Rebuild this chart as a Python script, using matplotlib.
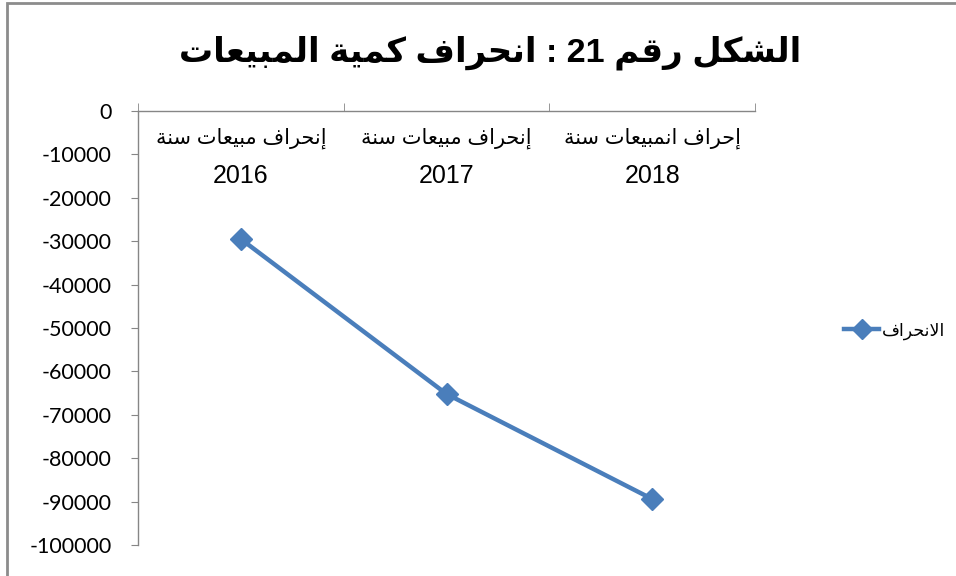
import matplotlib
matplotlib.use("Agg")
import matplotlib.pyplot as plt
import matplotlib.transforms as mtransforms
from matplotlib.patches import Rectangle
from matplotlib.lines import Line2D

# --- data ---------------------------------------------------------------
title = "الشكل رقم 21 : انحراف كمية المبيعات"
cat_names = ["إنحراف مبيعات سنة", "إنحراف مبيعات سنة", "إحراف انمبيعات سنة"]
cat_years = ["2016", "2017", "2018"]
deviation = [-29500, -65200, -89400]
series_name = "الانحراف"
y_ticks = list(range(0, -100001, -10000))

LINE_COLOR = "#4a7ebb"
AXIS_COLOR = "#868686"
ARABIC = ["Liberation Sans", "DejaVu Sans"]

# --- minimal arabic shaping (matplotlib has no complex text layout) ------
# forms: isolated, final, initial, medial (None for right-joining letters)
FORMS = {
    "ا": ("\uFE8D", "\uFE8E", None, None),
    "إ": ("\uFE87", "\uFE88", None, None),
    "ر": ("\uFEAD", "\uFEAE", None, None),
    "ة": ("\uFE93", "\uFE94", None, None),
    "ب": ("\uFE8F", "\uFE90", "\uFE91", "\uFE92"),
    "ت": ("\uFE95", "\uFE96", "\uFE97", "\uFE98"),
    "ح": ("\uFEA1", "\uFEA2", "\uFEA3", "\uFEA4"),
    "س": ("\uFEB1", "\uFEB2", "\uFEB3", "\uFEB4"),
    "ش": ("\uFEB5", "\uFEB6", "\uFEB7", "\uFEB8"),
    "ع": ("\uFEC9", "\uFECA", "\uFECB", "\uFECC"),
    "ف": ("\uFED1", "\uFED2", "\uFED3", "\uFED4"),
    "ق": ("\uFED5", "\uFED6", "\uFED7", "\uFED8"),
    "ك": ("\uFED9", "\uFEDA", "\uFEDB", "\uFEDC"),
    "ل": ("\uFEDD", "\uFEDE", "\uFEDF", "\uFEE0"),
    "م": ("\uFEE1", "\uFEE2", "\uFEE3", "\uFEE4"),
    "ن": ("\uFEE5", "\uFEE6", "\uFEE7", "\uFEE8"),
    "ي": ("\uFEF1", "\uFEF2", "\uFEF3", "\uFEF4"),
}
LAM_ALEF = {"ا": ("\uFEFB", "\uFEFC"), "إ": ("\uFEF9", "\uFEFA")}


def dual(ch):
    return ch in FORMS and FORMS[ch][2] is not None


def rtl(s):
    out = []
    i = 0
    while i < len(s):
        ch = s[i]
        prev = s[i - 1] if i > 0 else ""
        if ch == "ل" and i + 1 < len(s) and s[i + 1] in LAM_ALEF:
            iso, fin = LAM_ALEF[s[i + 1]]
            out.append(fin if dual(prev) else iso)
            i += 2
            continue
        if ch not in FORMS:
            out.append(ch)
            i += 1
            continue
        nxt = s[i + 1] if i + 1 < len(s) else ""
        join_prev = dual(prev)
        join_next = dual(ch) and nxt in FORMS
        iso, fin, ini, med = FORMS[ch]
        if join_prev and join_next:
            out.append(med)
        elif join_prev:
            out.append(fin)
        elif join_next:
            out.append(ini)
        else:
            out.append(iso)
        i += 1
    # visual order: reverse, then restore digit runs
    vis = "".join(out)[::-1]
    res, run = [], ""
    for c in vis:
        if c.isdigit():
            run += c
        else:
            res.append(run[::-1]); run = ""
            res.append(c)
    res.append(run[::-1])
    return "".join(res)


# --- figure -------------------------------------------------------------
fig = plt.figure(figsize=(9.56, 5.76), dpi=100)
ax = fig.add_axes([138 / 956, 1 - 545 / 576, (755 - 138) / 956, (545 - 111) / 576])

x = list(range(1, len(cat_years) + 1))
ax.plot(x, deviation, color=LINE_COLOR, linewidth=3.2, marker="D",
        markersize=11, markerfacecolor=LINE_COLOR, markeredgecolor=LINE_COLOR,
        solid_capstyle="round")

ax.set_xlim(0.5, len(cat_years) + 0.5)
ax.set_ylim(-100000, 0)

for side in ("right", "bottom"):
    ax.spines[side].set_visible(False)
for side in ("left", "top"):
    ax.spines[side].set_color(AXIS_COLOR)
    ax.spines[side].set_linewidth(1.0)

ax.set_yticks(y_ticks)
ax.set_yticklabels([str(v) for v in y_ticks], fontfamily="Lato", fontsize=15.5)
ax.tick_params(axis="y", length=5, color=AXIS_COLOR, pad=14)

# category labels: year as tick label, arabic caption above it
ax.set_xticks(x)
ax.set_xticklabels(cat_years, fontfamily="Liberation Sans", fontsize=18)
ax.set_xticks([v + 0.5 for v in range(len(cat_years) + 1)], minor=True)
ax.tick_params(axis="x", which="major", top=False, bottom=False,
               labeltop=True, labelbottom=False, pad=-42)
ax.tick_params(axis="x", which="minor", top=True, bottom=False, length=6,
               color=AXIS_COLOR, direction="out")
for lab in ax.get_xticklabels():
    lab.set_va("top")

trans = mtransforms.blended_transform_factory(ax.transData, ax.transAxes)
for xi, name in zip(x, cat_names):
    ax.text(xi, 1 - (128 - 111) / 434, rtl(name), transform=trans,
            ha="center", va="top", fontsize=15, fontfamily=ARABIC)

fig.text(490 / 956, 1 - 53 / 576, rtl(title), ha="center", va="center",
         fontsize=24.5, fontweight="bold", fontfamily=ARABIC)

handle = Line2D([], [], color=LINE_COLOR, linewidth=3.2, marker="D",
                markersize=10, markerfacecolor=LINE_COLOR)
fig.legend([handle], [rtl(series_name)], loc="center left",
           bbox_to_anchor=(832 / 956, 1 - 331 / 576), frameon=False,
           handlelength=2.0, handletextpad=0.2, borderpad=0.2,
           prop={"family": ARABIC, "size": 12.5})

# chart-area border (only top and left edges are visible in the crop)
fig.patches.append(Rectangle((7 / 956, -0.05), 1.2, 1 - 3 / 576 + 0.05,
                             transform=fig.transFigure, fill=False,
                             edgecolor="#8c8c8c", linewidth=2.0))

fig.savefig("out.png", dpi=100)
